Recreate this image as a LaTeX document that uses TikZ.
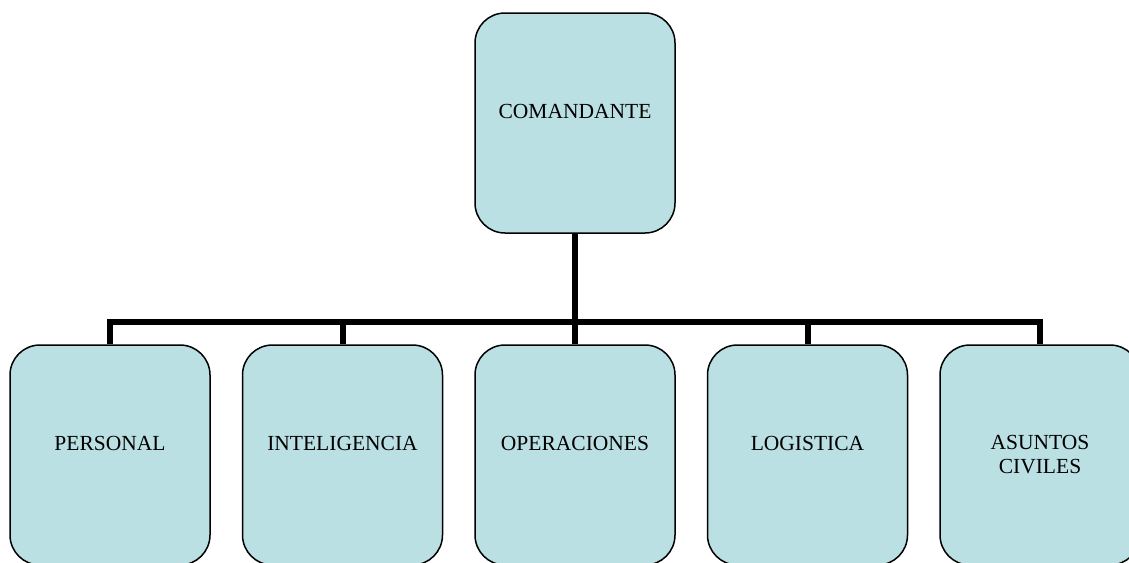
\documentclass[tikz,border=0pt]{standalone}
\usepackage{fontspec}
\setmainfont{Liberation Serif}
\definecolor{boxfill}{RGB}{187,224,227}
\tikzset{
  orgbox/.style={draw=black, line width=1.5pt, fill=boxfill, rounded corners=30pt,
    minimum width=200pt, minimum height=220pt, inner sep=0pt},
  orglabel/.style={font=\fontsize{21.5}{24}\selectfont, align=center, inner sep=0pt},
  conn/.style={line width=6pt, draw=black}
}
\begin{document}
\begin{tikzpicture}[x=1pt, y=-1pt]
\useasboundingbox (0,0) rectangle (1129,562);
\clip (0,0) rectangle (1129,562);
\node[orgbox] (top) at (575,123) {};
\node[orgbox] (b1) at (110,455) {};
\node[orgbox] (b2) at (342.5,455) {};
\node[orgbox] (b3) at (575,455) {};
\node[orgbox] (b4) at (807.5,455) {};
\node[orgbox] (b5) at (1040,455) {};
\node[orglabel] (ltop) at (575,111) {COMANDANTE};
\node[orglabel] (l1) at (110,443) {PERSONAL};
\node[orglabel] (l2) at (342.5,443) {INTELIGENCIA};
\node[orglabel] (l3) at (575,443) {OPERACIONES};
\node[orglabel] (l4) at (807.5,443) {LOGISTICA};
\node[orglabel] (l5) at (1040,455) {ASUNTOS\\CIVILES};
\coordinate (bus) at (575,322);
\draw[conn] (top.south) -- (bus);
\foreach \c in {b1,b2,b3,b4,b5}{
  \draw[conn] (bus) -| (\c.north);
}
\end{tikzpicture}
\end{document}
